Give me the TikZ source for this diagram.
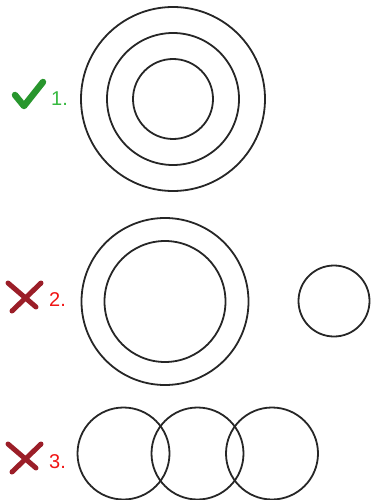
\documentclass[tikz,border=0pt]{standalone}
\usepackage{fontspec}
\setmainfont{Liberation Sans}
\usepackage{tikz}
\usetikzlibrary{calc}
\definecolor{okgreen}{RGB}{55,185,65}
\definecolor{tickgreen}{RGB}{40,150,45}
\definecolor{badred}{RGB}{240,20,20}
\definecolor{crossred}{RGB}{155,30,40}
\tikzset{
    ring/.style={line width=1.8pt, black!85},
    tick/.style={line width=6.5pt, tickgreen, line cap=round, line join=round},
    cross/.style={line width=5pt, crossred, line cap=round},
    oklabel/.style={font=\fontsize{20}{20}\selectfont, text=okgreen, inner sep=0pt},
    badlabel/.style={font=\fontsize{20}{20}\selectfont, text=badred, inner sep=0pt}
}

\begin{document}
\begin{tikzpicture}[x=1pt, y=-1pt]
    \useasboundingbox (0,0) rectangle (370,500);
    % 1. concentric circles
    \coordinate (A) at (173,99);
    \draw[ring] (A) circle (92); \draw[ring] (A) circle (66); \draw[ring] (A) circle (40);
    \draw[tick] (15,95) -- (24,106) -- (43,82);
    \node[oklabel, anchor=west] (lab1) at (51,99) {1.};

    % 2. two circles + one apart
    \coordinate (B) at (165,301.5);
    \draw[ring] (B) circle (83.5); \draw[ring] (B) circle (60.5);
    \coordinate (Bs) at (334,301);
    \draw[ring] (Bs) circle (35.5);
    \draw[cross] (12,311) -- (41,283);
    \draw[cross] (8,283) -- (36,307);
    \node[badlabel, anchor=west] (lab2) at (49,299.5) {2.};

    % 3. overlapping circles
    \foreach \cx [count=\i] in {123.5,197.5,272} {
        \coordinate (C\i) at (\cx,453.5);
        \draw[ring] (C\i) circle (46);
    }
    \draw[cross] (12,472) -- (41,444);
    \draw[cross] (8,444) -- (36,468);
    \node[badlabel, anchor=west] (lab3) at (49,461.5) {3.};
\end{tikzpicture}
\end{document}
